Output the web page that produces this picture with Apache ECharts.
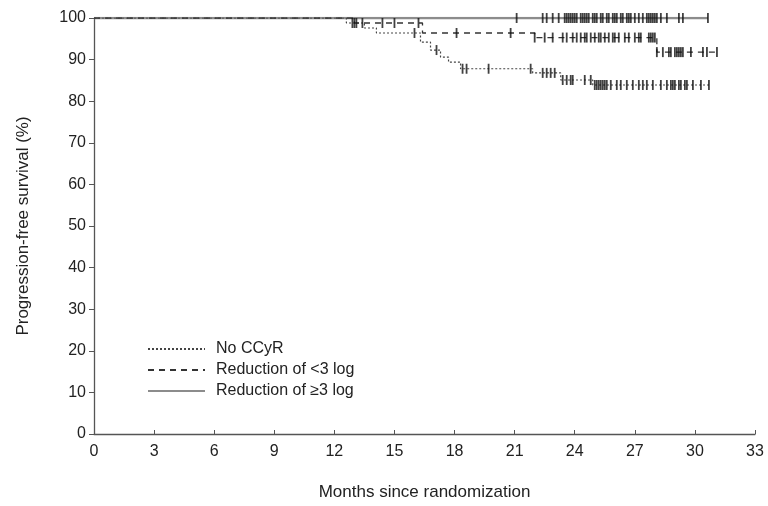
<!DOCTYPE html>
<html>
<head>
<meta charset="utf-8">
<script src="https://cdn.jsdelivr.net/npm/echarts@6/dist/echarts.min.js"></script>
<style>
  html, body { margin: 0; padding: 0; background: #fff; }
  #chart { width: 768px; height: 506px; }
</style>
</head>
<body>
<div id="chart"></div>
<script>
// Kaplan-Meier steps: time of each drop (months) and survival after it (%)
const noCCyRTimes = [0, 12.6, 13.5, 14.1, 16.3, 16.8, 17.3, 17.7, 18.3, 21.9, 23.3, 24.9, 30.75];
const noCCyRSurv  = [100, 98.8, 97.6, 96.4, 94.2, 92.3, 90.6, 89.4, 87.8, 86.8, 85.1, 83.9, 83.9];

const lt3Times = [0, 13.0, 16.4, 22.0, 28.1, 31.2];
const lt3Surv  = [100, 98.8, 96.4, 95.3, 91.8, 91.8];

const ge3Times = [0, 30.65];
const ge3Surv  = [100, 100];

// censoring marks (months)
const noCCyRCensor = [12.9, 13.1, 13.4, 16.0, 17.1, 18.4, 18.6, 19.7, 21.8, 22.4, 22.6, 22.8, 23.0,
  23.4, 23.6, 23.8, 23.9, 24.5, 24.8, 25.0, 25.1, 25.2, 25.3, 25.4, 25.5, 25.6, 25.8, 26.1, 26.3,
  26.6, 26.9, 27.2, 27.4, 27.6, 27.9, 28.3, 28.6, 28.8, 28.9, 29.0, 29.2, 29.3, 29.5, 29.6, 29.9,
  30.3, 30.7];
const lt3Censor = [13.0, 14.4, 15.0, 16.2, 18.1, 20.8, 22.0, 22.5, 22.9, 23.4, 23.6, 23.9, 24.1,
  24.3, 24.5, 24.6, 24.8, 25.0, 25.2, 25.3, 25.5, 25.7, 25.9, 26.0, 26.2, 26.5, 26.7, 27.0, 27.2,
  27.3, 27.7, 27.8, 27.9, 28.0, 28.1, 28.4, 28.7, 28.8, 29.0, 29.1, 29.2, 29.3, 29.4, 29.8, 30.4,
  30.6, 31.1];
const ge3Censor = [21.1, 22.4, 22.6, 22.9, 23.2, 23.5, 23.6, 23.7, 23.8, 23.9, 24.0, 24.1, 24.3,
  24.4, 24.5, 24.6, 24.7, 24.9, 25.0, 25.1, 25.3, 25.4, 25.6, 25.7, 25.9, 26.0, 26.1, 26.3, 26.4,
  26.6, 26.7, 26.8, 27.0, 27.2, 27.4, 27.6, 27.7, 27.8, 27.9, 28.0, 28.1, 28.3, 28.6, 29.2, 29.4,
  30.65];

const seriesNames = ['No CCyR', 'Reduction of <3 log', 'Reduction of \u22653 log'];

const survAt = (times, surv, t) => {
  let v = surv[0];
  for (let i = 0; i < times.length; i++) {
    if (times[i] <= t) v = surv[i];
  }
  return v;
};

const pairs = (xs, ys) => xs.map((x, i) => [x, ys[i]]);
const censorPts = (c, times, surv) => c.map((t) => [t, survAt(times, surv, t)]);

const chart = echarts.init(document.getElementById('chart'));

const tickMark = {
  type: 'scatter',
  symbol: 'rect',
  symbolSize: [1.8, 10],
  itemStyle: { color: '#111' },
  silent: true,
  z: 5
};

const option = {
  animation: false,
  grid: { left: 94, right: 13, top: 18, bottom: 71 },
  legend: {
    data: seriesNames,
    orient: 'vertical',
    left: 142,
    top: 336,
    itemWidth: 57,
    itemHeight: 10,
    itemGap: 5,
    itemStyle: { opacity: 0 },
    textStyle: { fontFamily: 'Liberation Sans', fontSize: 16, color: '#222', padding: [0, 0, 0, 6] }
  },
  xAxis: {
    type: 'value',
    min: 0,
    max: 33,
    interval: 3,
    name: 'Months since randomization',
    nameLocation: 'middle',
    nameGap: 50,
    nameTextStyle: { fontFamily: 'Liberation Sans', fontSize: 17, color: '#222' },
    axisLine: { lineStyle: { color: '#555', width: 1.3 } },
    axisTick: { inside: true, length: 4, lineStyle: { color: '#555' } },
    axisLabel: { fontFamily: 'Liberation Sans', fontSize: 16, color: '#222', margin: 10 },
    splitLine: { show: false }
  },
  yAxis: {
    type: 'value',
    min: 0,
    max: 100,
    interval: 10,
    name: 'Progression-free survival (%)',
    nameLocation: 'middle',
    nameGap: 62,
    nameTextStyle: { fontFamily: 'Liberation Sans', fontSize: 17, color: '#222' },
    axisLine: { show: true, lineStyle: { color: '#555', width: 1.3 } },
    axisTick: { show: true, length: 5, lineStyle: { color: '#555' } },
    axisLabel: { fontFamily: 'Liberation Sans', fontSize: 16, color: '#222', margin: 8 },
    splitLine: { show: false }
  },
  series: [
    {
      name: seriesNames[0],
      type: 'line',
      step: 'end',
      symbol: 'none',
      data: pairs(noCCyRTimes, noCCyRSurv),
      lineStyle: { color: '#444', width: 1.2, type: [2, 2] },
      itemStyle: { color: '#444' },
      z: 3
    },
    {
      name: seriesNames[1],
      type: 'line',
      step: 'end',
      symbol: 'none',
      data: pairs(lt3Times, lt3Surv),
      lineStyle: { color: '#333', width: 1.3, type: [6, 5] },
      itemStyle: { color: '#333' },
      z: 3
    },
    {
      name: seriesNames[2],
      type: 'line',
      step: 'end',
      symbol: 'none',
      data: pairs(ge3Times, ge3Surv),
      lineStyle: { color: '#8c8c8c', width: 2.4 },
      itemStyle: { color: '#8c8c8c' },
      z: 2
    },
    Object.assign({ data: censorPts(noCCyRCensor, noCCyRTimes, noCCyRSurv) }, tickMark),
    Object.assign({ data: censorPts(lt3Censor, lt3Times, lt3Surv) }, tickMark),
    Object.assign({ data: censorPts(ge3Censor, ge3Times, ge3Surv) }, tickMark)
  ]
};

chart.setOption(option);
</script>
</body>
</html>
